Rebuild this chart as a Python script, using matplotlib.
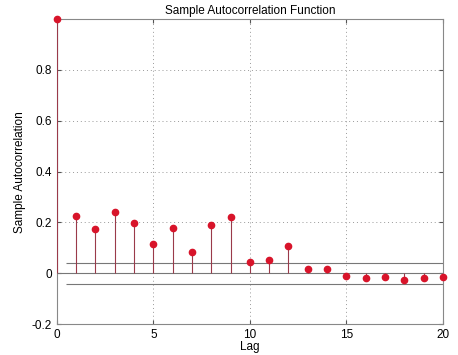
import matplotlib
matplotlib.use("Agg")
import matplotlib.pyplot as plt
import numpy as np

lags = list(range(21))
acf = [1.0, 0.225, 0.173, 0.240, 0.197, 0.116, 0.180, 0.083, 0.190, 0.220,
       0.043, 0.051, 0.106, 0.018, 0.017, -0.010, -0.020, -0.014, -0.026,
       -0.017, -0.014]
bound = 0.042

plt.rcParams["font.family"] = ["Liberation Sans", "DejaVu Sans"]
fig = plt.figure(figsize=(4.58, 3.55), dpi=100)
ax = fig.add_axes([0.124, 0.087, 0.843, 0.859])

ax.vlines(lags, 0, acf, color="#9a3a4a", linewidth=0.8, zorder=3)
ax.plot(lags, acf, "o", color="#d8142a", markersize=4.5, zorder=4, clip_on=False)
ax.axhline(0, color="#777777", linewidth=0.8, zorder=2)
ax.hlines([bound, -bound], 0.5, 20, color="#777777", linewidth=0.8, zorder=2)

ax.set_xlim(0, 20)
ax.set_ylim(-0.2, 1.0)
ax.set_xticks([0, 5, 10, 15, 20])
ax.set_yticks([-0.2, 0, 0.2, 0.4, 0.6, 0.8])
ax.set_yticklabels(["-0.2", "0", "0.2", "0.4", "0.6", "0.8"])
ax.grid(True, linestyle=(0, (1, 3)), color="#999999", linewidth=0.7)
ax.tick_params(direction="in", top=True, right=True, labelsize=8.5, length=3,
               color="#555555")
for s in ax.spines.values():
    s.set_color("#888888")
    s.set_linewidth(0.8)

ax.set_title("Sample Autocorrelation Function", fontsize=8.5, pad=4)
ax.set_xlabel("Lag", fontsize=8.5, labelpad=0)
ax.set_ylabel("Sample Autocorrelation", fontsize=8.5, labelpad=4)

fig.savefig("out.png", dpi=100)
